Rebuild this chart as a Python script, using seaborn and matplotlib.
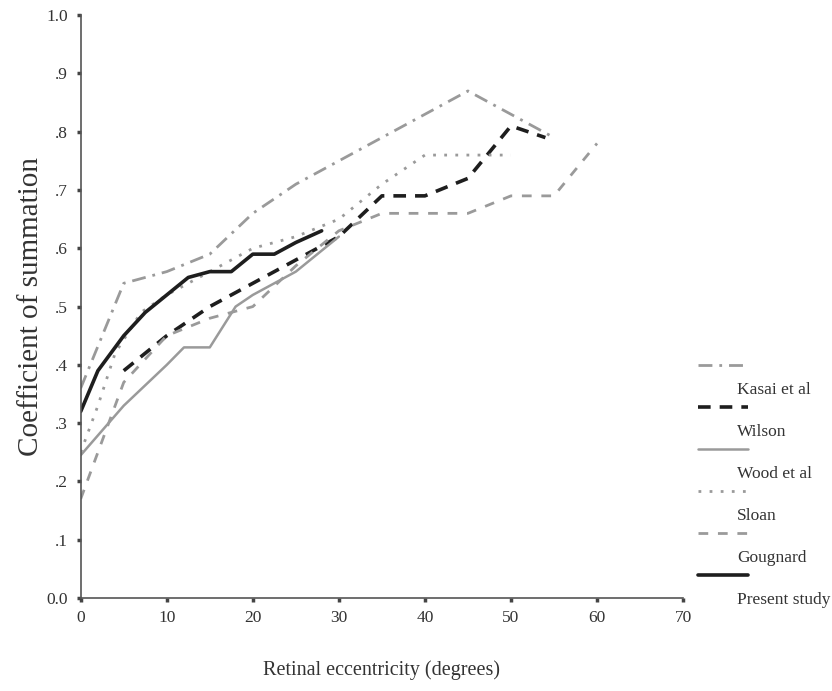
import numpy as np
import matplotlib
matplotlib.use("Agg")
import matplotlib.pyplot as plt
import seaborn as sns
from matplotlib.lines import Line2D

# valores
kasai_x = [0, 5, 10, 15, 20, 25, 30, 35, 40, 45, 50, 55]
kasai_y = [0.36, 0.54, 0.56, 0.59, 0.66, 0.71, 0.75, 0.79, 0.83, 0.87, 0.83, 0.79]

wilson_x = [5, 7.5, 10, 15, 20, 25, 30, 35, 40, 45, 50, 54]
wilson_y = [0.39, 0.42, 0.45, 0.50, 0.54, 0.58, 0.62, 0.69, 0.69, 0.72, 0.81, 0.79]

wood_x = [0, 5, 10, 12, 15, 18, 20, 25, 30]
wood_y = [0.245, 0.33, 0.40, 0.43, 0.43, 0.50, 0.52, 0.56, 0.62]

sloan_x = [0, 2, 4, 7, 10, 15, 20, 25, 30, 35, 40, 45, 50]
sloan_y = [0.25, 0.33, 0.42, 0.49, 0.52, 0.56, 0.60, 0.62, 0.65, 0.71, 0.76, 0.76, 0.76]

goug_x = [0, 5, 10, 15, 20, 25, 30, 35, 40, 45, 50, 55, 60]
goug_y = [0.17, 0.37, 0.45, 0.48, 0.50, 0.57, 0.63, 0.66, 0.66, 0.66, 0.69, 0.69, 0.78]

present_x = [0, 2, 5, 7.5, 10, 12.5, 15, 17.5, 20, 22.5, 25, 28]
present_y = [0.32, 0.39, 0.45, 0.49, 0.52, 0.55, 0.56, 0.56, 0.59, 0.59, 0.61, 0.63]

x_ticks = [0, 10, 20, 30, 40, 50, 60, 70]
y_ticks = [0.0, 0.1, 0.2, 0.3, 0.4, 0.5, 0.6, 0.7, 0.8, 0.9, 1.0]
y_labels = ["0.0", ".1", ".2", ".3", ".4", ".5", ".6", ".7", ".8", ".9", "1.0"]

sns.set_style("white")
plt.rcParams['font.family'] = ['Liberation Serif', 'DejaVu Serif']

grey = "#9a9a9a"
black = "#1e1e1e"

series = [
    ("Kasai et al", kasai_x, kasai_y, grey, 2.0, (0, (5, 2.5, 1, 2.5))),
    ("Wilson", wilson_x, wilson_y, black, 2.6, (0, (3.5, 2.5))),
    ("Wood et al", wood_x, wood_y, grey, 1.8, "-"),
    ("Sloan", sloan_x, sloan_y, grey, 2.0, (0, (1, 3))),
    ("Gougnard", goug_x, goug_y, grey, 2.0, (0, (3.5, 3.5))),
    ("Present study", present_x, present_y, black, 2.6, "-"),
]

fig = plt.figure(figsize=(8.32, 6.91), dpi=100)
ax = fig.add_axes([0.097, 0.1346, 0.724, 0.8434])

for nome, xs, ys, cor, lw, ls in series:
    sns.lineplot(x=xs, y=ys, ax=ax, color=cor, linewidth=lw, linestyle=ls)

ax.set_xlim(0, 70)
ax.set_ylim(0, 1.0)
ax.set_xticks(x_ticks)
ax.set_yticks(y_ticks)
ax.set_yticklabels(y_labels)
ax.tick_params(axis='both', which='both', bottom=True, left=True, length=3, width=2.5,
               direction='out', color='#444444', labelsize=12.5, labelcolor='#333333', pad=6)
sns.despine(ax=ax)
for s in ['left', 'bottom']:
    ax.spines[s].set_color('#555555')
    ax.spines[s].set_linewidth(1.2)

ax.set_xlabel("Retinal eccentricity (degrees)", fontsize=14.5, color='#333333', labelpad=24)
ax.set_ylabel("Coefficient of summation", fontsize=21, color='#333333', labelpad=2)

# legenda manual: linha em cima, texto embaixo
y0 = 1 - 365 / 691
passo = 42 / 691
for i, (nome, xs, ys, cor, lw, ls) in enumerate(series):
    yy = y0 - i * passo
    fig.add_artist(Line2D([698 / 832, 748 / 832], [yy, yy], color=cor,
                          linewidth=lw, linestyle=ls))
    fig.text(737 / 832, yy - 25 / 691, nome, fontsize=12.5, color='#333333',
             va='center', ha='left')

fig.savefig("out.png", dpi=100)
